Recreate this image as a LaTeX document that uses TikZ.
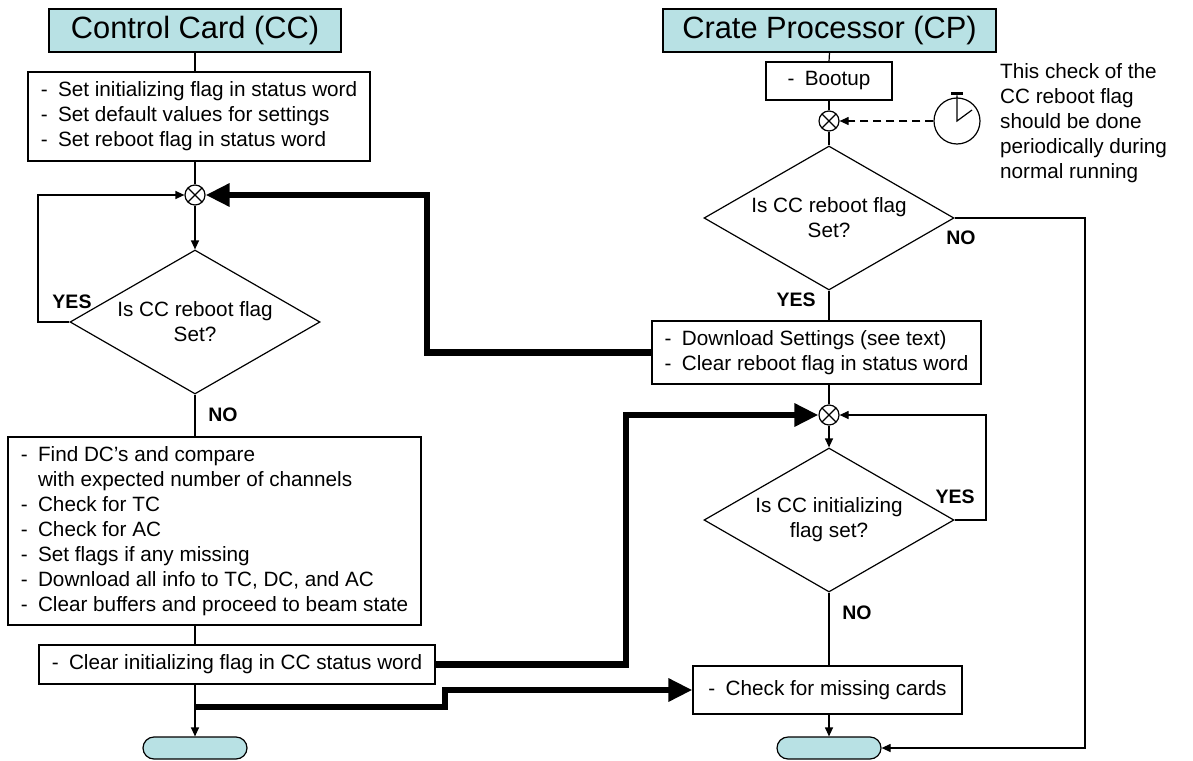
\documentclass[tikz,border=0pt]{standalone}
\usepackage{fontspec}
\setmainfont{Liberation Sans}
\usetikzlibrary{arrows.meta,shapes.geometric,positioning}
\definecolor{titlecyan}{RGB}{184,225,228}

\tikzset{
    flow/.style={line width=1.2pt},
    flowarrow/.style={flow, -{Triangle[length=9pt,width=8pt]}},
    busarrow/.style={line width=6.5pt, -{Triangle[length=24pt,width=22pt]}},
    heading/.style={draw, line width=1.2pt, fill=titlecyan, inner sep=0pt, font=\fontsize{30.8}{36}\selectfont},
    stepbox/.style={draw, line width=1.2pt, fill=white, align=left, inner sep=0pt},
    query/.style={draw, line width=1.2pt, shape=diamond, aspect=1.74, inner sep=0pt, minimum width=250pt, minimum height=144pt, align=center},
    merge/.style={draw, line width=1.2pt, circle, minimum size=20pt, inner sep=0pt,
        path picture={\draw[line width=1.2pt] (path picture bounding box.north east) -- (path picture bounding box.south west)
            (path picture bounding box.north west) -- (path picture bounding box.south east);}},
    terminal/.style={draw, line width=1.2pt, fill=titlecyan, rounded corners=11pt, minimum width=104pt, minimum height=22pt, inner sep=0pt},
    answer/.style={inner sep=0pt, font=\fontsize{19.5}{23}\selectfont\bfseries},
}

\begin{document}
\begin{tikzpicture}[x=1pt, y=-1pt, font=\fontsize{20.7}{25}\selectfont]
        \useasboundingbox (0,0) rectangle (1193,760);

        \begin{scope}
            \node[heading, minimum width=292pt, minimum height=43pt] (cc title) at (195,30.5) {Control Card (CC)};
            \node[stepbox, minimum width=342pt, minimum height=89pt] (cc init) at (199,116.5)
                {-\enspace Set initializing flag in status word\\-\enspace Set default values for settings\\-\enspace Set reboot flag in status word};
            \node[merge] (cc join) at (195,195) {};
            \node[query] (cc check) at (195,322) {Is CC reboot flag\\Set?};
            \node[stepbox, minimum width=413pt, minimum height=188pt] (cc find) at (214.5,531)
                {-\enspace Find DC's and compare\\\phantom{-}\enspace with expected number of channels\\-\enspace Check for TC\\-\enspace Check for AC\\-\enspace Set flags if any missing\\-\enspace Download all info to TC, DC, and AC\\-\enspace Clear buffers and proceed to beam state};
            \node[stepbox, minimum width=396pt, minimum height=39pt] (cc clear) at (237,664.5) {-\enspace Clear initializing flag in CC status word};
            \node[terminal] (cc end) at (195,748) {};
            \node[answer] (cc yes) at (72,302) {YES};
            \node[answer] (cc no) at (223,415) {NO};

            \coordinate (cc loop) at (38,322);
            \coordinate (cc tap) at (195,707);
            \coordinate (cc bus) at (427,195);
            \coordinate (cc kink) at (445,690);

            \draw[flow] (cc title.south) -- (cc title.south |- cc init.north);
            \draw[flow] (cc init.south -| cc join) -- (cc join.north);
            \draw[flowarrow] (cc join.south) -- (cc check.north);
            \draw[flowarrow] (cc check.west) -- (cc loop) |- (cc join.west);
            \draw[flow] (cc check.south) -- (cc check.south |- cc find.north);
            \draw[flow] (cc check.south |- cc find.south) -- (cc check.south |- cc clear.north);
            \draw[flowarrow] (cc clear.south -| cc end) -- (cc end.north);
        \end{scope}

        \begin{scope}
            \node[heading, minimum width=333pt, minimum height=43pt] (cp title) at (829.5,30.5) {Crate Processor (CP)};
            \node[stepbox, minimum width=126pt, minimum height=38pt] (cp boot) at (829,81) {-\enspace Bootup};
            \node[merge] (cp join) at (829,121) {};
            \node[draw, circle, line width=1.2pt, minimum size=46pt, inner sep=0pt] (cp clock) at (957,121) {};
            \node[anchor=west, align=left, inner sep=0pt] (cp note) at (1000,123)
                {This check of the\\CC reboot flag\\should be done\\periodically during\\normal running};
            \node[query] (cp check) at (829,218) {Is CC reboot flag\\Set?};
            \node[stepbox, minimum width=329pt, minimum height=63pt] (cp load) at (816.5,352.5)
                {-\enspace Download Settings (see text)\\-\enspace Clear reboot flag in status word};
            \node[merge] (cp join2) at (829,415) {};
            \node[query] (cp init) at (829,520) {Is CC initializing\\flag set?};
            \node[stepbox, minimum width=269pt, minimum height=48pt] (cp missing) at (827.5,690) {-\enspace Check for missing cards};
            \node[terminal] (cp end) at (829,748) {};
            \node[answer] (cp no) at (961,238) {NO};
            \node[answer] (cp yes) at (796,300) {YES};
            \node[answer] (cp init yes) at (955,497) {YES};
            \node[answer] (cp init no) at (857,613) {NO};

            \coordinate (cp bypass) at (1085,218);
            \coordinate (cp loop) at (986,520);
            \coordinate (cp bus) at (626,415);

            \fill (cp clock.north) ++(-6,-5) rectangle ++(12,3);
            \draw[flow] (cp clock.north) ++(0,-2) -- (cp clock.center) -- ++(15,-11);

            \draw[flow] (cp title.south) -- (cp boot.north);
            \draw[flow] (cp boot.south) -- (cp join.north);
            \draw[flow] (cp join.south) -- (cp check.north);
            \draw[flowarrow, dash pattern=on 8pt off 5pt] (cp clock.west) -- (cp join.east);
            \draw[flowarrow] (cp check.east) -- (cp bypass) |- (cp end.east);
            \draw[flow] (cp check.south) -- (cp check.south |- cp load.north);
            \draw[flow] (cp load.south -| cp join2) -- (cp join2.north);
            \draw[flowarrow] (cp join2.south) -- (cp init.north);
            \draw[flowarrow] (cp init.east) -- (cp loop) |- (cp join2.east);
            \draw[flow] (cp init.south) -- (cp init.south |- cp missing.north);
            \draw[flowarrow] (cp missing.south -| cp end) -- (cp end.north);
        \end{scope}

        \draw[busarrow] (cp load.west) -| (cc bus) -- (cc join.east);
        \draw[busarrow] (cc clear.east) -| (cp bus) -- (cp join2.west);
        \draw[busarrow] (cc tap) -| (cc kink) -- (cp missing.west);
    \end{tikzpicture}
\end{document}
